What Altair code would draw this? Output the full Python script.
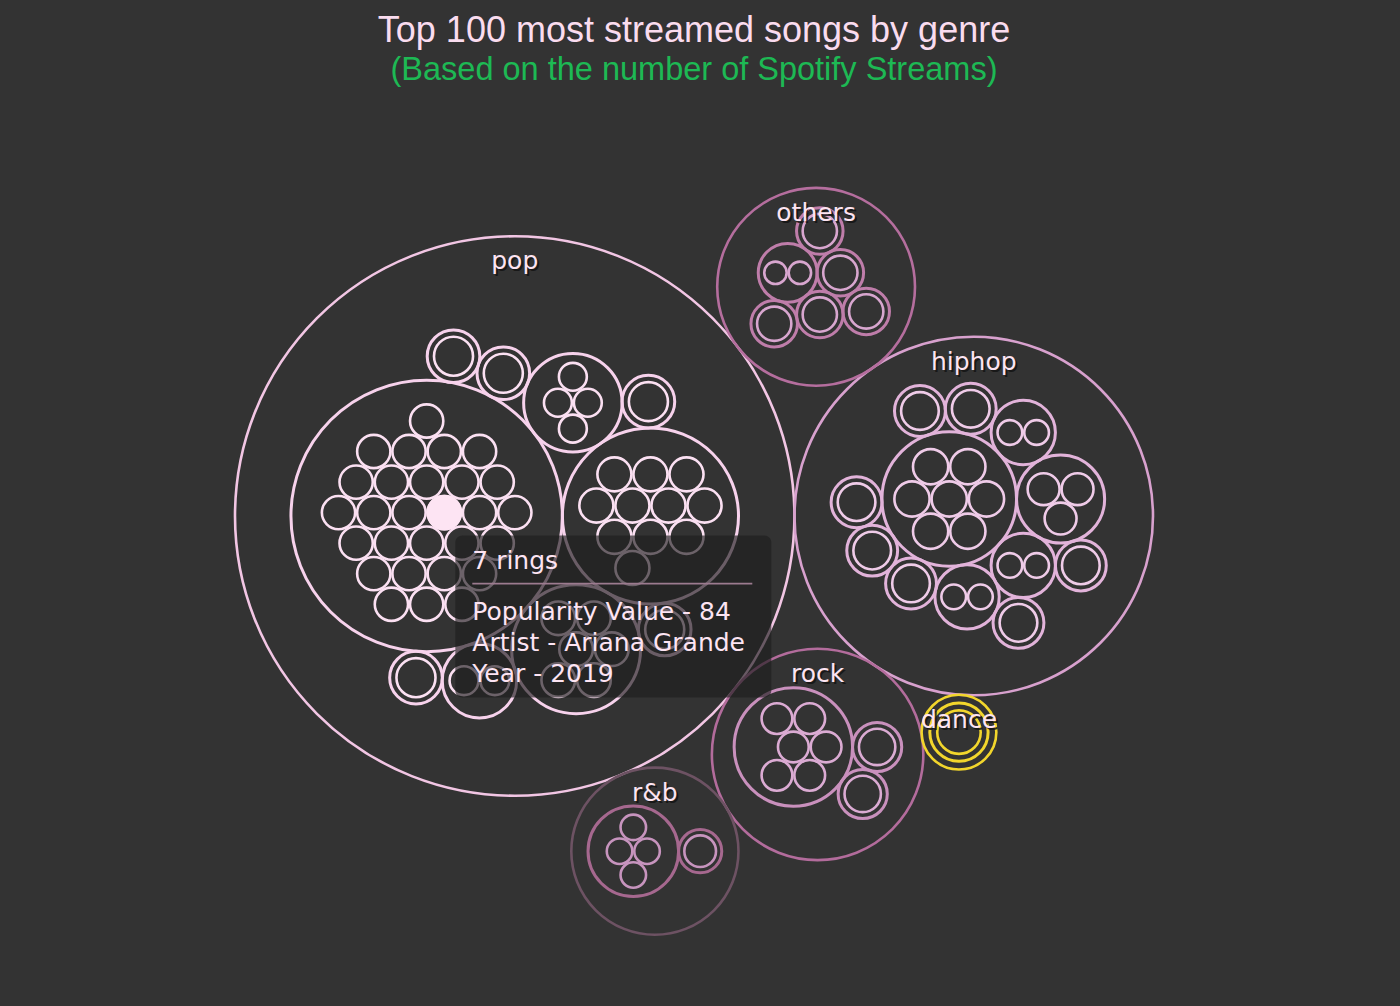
import math
import itertools
import pandas as pd
import altair as alt

# ---------------- data ----------------
TITLE = "Top 100 most streamed songs by genre"
SUBTITLE = "(Based on the number of Spotify Streams)"

GENRES = ["pop", "hiphop", "rock", "others", "r&b", "dance"]
# number of songs of every artist inside each genre
POP_ARTIST_SONGS = [28, 11, 6, 4, 2, 1, 1, 1, 1, 1]
HIPHOP_ARTIST_SONGS = [7, 3, 2, 2, 2, 1, 1, 1, 1, 1, 1, 1]
ROCK_ARTIST_SONGS = [6, 1, 1]
OTHERS_ARTIST_SONGS = [2, 1, 1, 1, 1, 1]
RNB_ARTIST_SONGS = [4, 1]
DANCE_ARTIST_SONGS = [1]
GENRE_ARTIST_SONGS = [POP_ARTIST_SONGS, HIPHOP_ARTIST_SONGS, ROCK_ARTIST_SONGS,
                      OTHERS_ARTIST_SONGS, RNB_ARTIST_SONGS, DANCE_ARTIST_SONGS]
# relative stream weight of every artist (one-song artist = 1), read from circle areas
POP_ARTIST_STREAMS = [26.6, 11.2, 6.0, 3.5, 2.0, 1, 1, 1, 1, 1]
HIPHOP_ARTIST_STREAMS = [7.0, 3.0, 1.6, 1.6, 1.6, 1, 1, 1, 1, 1, 1, 1]
ROCK_ARTIST_STREAMS = [5.8, 1, 1]
OTHERS_ARTIST_STREAMS = [1.6, 1, 1, 1, 1, 1]
RNB_ARTIST_STREAMS = [4.4, 1]
DANCE_ARTIST_STREAMS = [1]
GENRE_ARTIST_STREAMS = [POP_ARTIST_STREAMS, HIPHOP_ARTIST_STREAMS, ROCK_ARTIST_STREAMS,
                        OTHERS_ARTIST_STREAMS, RNB_ARTIST_STREAMS, DANCE_ARTIST_STREAMS]

# hovered song (tooltip)
HOVER_GENRE = "pop"
HOVER_ARTIST = 0
HOVER_SONG = 1
HOVER_TITLE = "7 rings"
HOVER_LINES = ["Popularity Value - 84", "Artist - Ariana Grande", "Year - 2019"]

# ---------------- styles / layout settings ----------------
W, H = 1400, 1006
CX, CY = 694, 516
ROOT_R = 459
INNER = 0.8          # artists fill 80% of their genre circle
INNER_SONGS = 0.83   # songs fill 83% of their artist circle
INNER_ONE = 0.78     # an only child
BG = "#333333"
PALETTE = {
    "pop": ("#f2c6e4", "#f7d2ec", "#fbe0f2"),
    "hiphop": ("#d8a1ce", "#e2b3da", "#efcbe8"),
    "rock": ("#b36c9c", "#c990bd", "#dbabd3"),
    "others": ("#b56e9e", "#bf7daa", "#d8a6cf"),
    "r&b": ("#6d5263", "#a6688f", "#c794be"),
    "dance": ("#f2d62c", "#f2d62c", "#f2d62c"),
}
SW = (2.6, 3.0, 2.6)

# ---------------- circle packing ----------------
def tangent_positions(p, q, r):
    x1, y1, R1 = p["x"], p["y"], p["r"] + r
    x2, y2, R2 = q["x"], q["y"], q["r"] + r
    dx, dy = x2 - x1, y2 - y1
    d = math.hypot(dx, dy)
    if d == 0 or d > R1 + R2 + 1e-9 or d < abs(R1 - R2) - 1e-9:
        return []
    a = (R1 * R1 - R2 * R2 + d * d) / (2 * d)
    h = math.sqrt(max(0.0, R1 * R1 - a * a))
    mx, my = x1 + a * dx / d, y1 + a * dy / d
    return [(mx - h * dy / d, my + h * dx / d), (mx + h * dy / d, my - h * dx / d)]


def pack_greedy(radii, rule):
    """place circles one by one, tangent to two placed ones; the free spot kept is the one
    nearest to the area-weighted barycenter ('bary') or with the smallest radius-weighted
    sum of distances ('wsum')"""
    placed = []
    for r in radii:
        if not placed:
            placed.append({"x": 0.0, "y": 0.0, "r": r})
            continue
        if len(placed) == 1:
            placed.append({"x": placed[0]["r"] + r, "y": 0.0, "r": r})
            continue
        wsum = sum(p["r"] ** 2 for p in placed)
        bx = sum(p["x"] * p["r"] ** 2 for p in placed) / wsum
        by = sum(p["y"] * p["r"] ** 2 for p in placed) / wsum
        best, best_s = None, None
        for p, q in itertools.combinations(placed, 2):
            for (x, y) in tangent_positions(p, q, r):
                bad = False
                for o in placed:
                    if math.hypot(x - o["x"], y - o["y"]) < (o["r"] + r) * (1 - 1e-9):
                        bad = True
                        break
                if bad:
                    continue
                if rule == "wsum":
                    s = sum(o["r"] * math.hypot(x - o["x"], y - o["y"]) for o in placed)
                else:
                    s = math.hypot(x - bx, y - by)
                if best is None or s < best_s - 1e-9 * max(1.0, best_s):
                    best, best_s = (x, y), s
        placed.append({"x": best[0], "y": best[1], "r": r})
    return placed


def enclose2(a, b):
    x21, y21, r21 = b["x"] - a["x"], b["y"] - a["y"], b["r"] - a["r"]
    l = math.hypot(x21, y21)
    if l == 0:
        return None
    return {"x": (a["x"] + b["x"] + x21 / l * r21) / 2,
            "y": (a["y"] + b["y"] + y21 / l * r21) / 2,
            "r": (l + a["r"] + b["r"]) / 2}


def enclose3(a, b, c):
    try:
        x1, y1, r1 = a["x"], a["y"], a["r"]
        x2, y2, r2 = b["x"], b["y"], b["r"]
        x3, y3, r3 = c["x"], c["y"], c["r"]
        a2, a3 = x1 - x2, x1 - x3
        b2, b3 = y1 - y2, y1 - y3
        c2, c3 = r2 - r1, r3 - r1
        d1 = x1 * x1 + y1 * y1 - r1 * r1
        d2 = d1 - x2 * x2 - y2 * y2 + r2 * r2
        d3 = d1 - x3 * x3 - y3 * y3 + r3 * r3
        ab = a3 * b2 - a2 * b3
        xa = (b2 * d3 - b3 * d2) / (ab * 2) - x1
        xb = (b3 * c2 - b2 * c3) / ab
        ya = (a3 * d2 - a2 * d3) / (ab * 2) - y1
        yb = (a2 * c3 - a3 * c2) / ab
        A = xb * xb + yb * yb - 1
        B = 2 * (r1 + xa * xb + ya * yb)
        C = xa * xa + ya * ya - r1 * r1
        if abs(A) > 1e-6:
            disc = B * B - 4 * A * C
            if disc < 0:
                return None
            r = -((B + math.sqrt(disc)) / (2 * A))
        else:
            r = -(C / B)
        return {"x": x1 + xa + xb * r, "y": y1 + ya + yb * r, "r": r}
    except ZeroDivisionError:
        return None


def contains(e, c):
    dr = e["r"] - c["r"] + 1e-6 * max(e["r"], c["r"], 1)
    dx, dy = c["x"] - e["x"], c["y"] - e["y"]
    return dr > 0 and dr * dr >= dx * dx + dy * dy


def enclose(circles):
    best = None
    cands = [{"x": c["x"], "y": c["y"], "r": c["r"]} for c in circles]
    cands += [enclose2(a, b) for a, b in itertools.combinations(circles, 2)]
    cands += [enclose3(a, b, c) for a, b, c in itertools.combinations(circles, 3)]
    for e in cands:
        if e is None or not (e["r"] > 0):
            continue
        if best is not None and e["r"] >= best["r"]:
            continue
        if all(contains(e, c) for c in circles):
            best = e
    return best


def layout_children(values, cx, cy, target_r, rule):
    n = len(values)
    order = sorted(range(n), key=lambda i: -values[i])
    packed = pack_greedy([math.sqrt(values[i]) for i in order], rule)
    e = enclose(packed)
    s = target_r / e["r"]
    out = [None] * n
    for k, i in enumerate(order):
        p = packed[k]
        out[i] = (cx + (p["x"] - e["x"]) * s, cy + (p["y"] - e["y"]) * s, p["r"] * s)
    return out


# ---------------- layout ----------------
rings, labels = [], []
hover = None

genre_lay = layout_children([sum(s) for s in GENRE_ARTIST_SONGS], CX, CY, ROOT_R, "wsum")
for gi, g in enumerate(GENRES):
    gx, gy, gr = genre_lay[gi]
    col = PALETTE[g]
    rings.append({"x": gx, "y": gy, "size": (2 * gr) ** 2, "color": col[0], "sw": SW[0]})
    labels.append({"x": gx, "y": gy - gr + 25, "text": g})
    songs = GENRE_ARTIST_SONGS[gi]
    weights = GENRE_ARTIST_STREAMS[gi]
    artist_lay = layout_children(weights, gx, gy, (INNER if len(songs) > 1 else INNER_ONE) * gr, "bary")
    for ai, n in enumerate(songs):
        ax, ay, ar = artist_lay[ai]
        rings.append({"x": ax, "y": ay, "size": (2 * ar) ** 2, "color": col[1], "sw": SW[1]})
        leaf_lay = layout_children([1] * n, ax, ay, (INNER_SONGS if n > 1 else INNER_ONE) * ar, "bary")
        for si, (lx, ly, lr) in enumerate(leaf_lay):
            dr = lr - 1.0
            rings.append({"x": lx, "y": ly, "size": (2 * dr) ** 2, "color": col[2], "sw": SW[2]})
            if g == HOVER_GENRE and ai == HOVER_ARTIST and si == HOVER_SONG:
                hover = (lx, ly, dr)

ring_df = pd.DataFrame(rings)
label_df = pd.DataFrame(labels)

hx, hy, hr = hover
hover_df = pd.DataFrame([{"x": hx, "y": hy, "size": (2 * hr + SW[2]) ** 2}])
tip_box = pd.DataFrame([{"x": hx + 11, "x2": hx + 327, "y": hy + 23, "y2": hy + 185}])
tip_rule = pd.DataFrame([{"x": hx + 28, "x2": hx + 308, "y": hy + 71}])
tip_text = pd.DataFrame([{"x": hx + 28, "y": hy + 48, "text": HOVER_TITLE}] +
                        [{"x": hx + 28, "y": hy + 99 + 31 * i, "text": t} for i, t in enumerate(HOVER_LINES)])
title_df = pd.DataFrame([{"text": TITLE}])
subtitle_df = pd.DataFrame([{"text": SUBTITLE}])

# ---------------- chart ----------------
def X(f="x"):
    return alt.X(f"{f}:Q", scale=alt.Scale(domain=[0, W], nice=False, zero=False), axis=None)


def Y(f="y"):
    return alt.Y(f"{f}:Q", scale=alt.Scale(domain=[0, H], nice=False, zero=False, reverse=True), axis=None)


ring_layer = alt.Chart(ring_df).mark_point(shape="circle", filled=False, opacity=1).encode(
    x=X(), y=Y(),
    size=alt.Size("size:Q", scale=None, legend=None),
    color=alt.Color("color:N", scale=None, legend=None),
    strokeWidth=alt.StrokeWidth("sw:Q", scale=None, legend=None),
)

hover_layer = alt.Chart(hover_df).mark_point(shape="circle", filled=True, opacity=1,
                                             color="#fde4f3", strokeWidth=0).encode(
    x=X(), y=Y(), size=alt.Size("size:Q", scale=None, legend=None))

label_shadow = alt.Chart(label_df).mark_text(font="DejaVu Sans", fontSize=25, color="#141414",
                                             opacity=0.85, dx=2, dy=2, baseline="middle",
                                             align="center").encode(x=X(), y=Y(), text="text:N")
label_layer = alt.Chart(label_df).mark_text(font="DejaVu Sans", fontSize=25, color="#fde4f2",
                                            baseline="middle", align="center").encode(
    x=X(), y=Y(), text="text:N")

tip_box_layer = alt.Chart(tip_box).mark_rect(fill="#1f1f1f", opacity=0.65, cornerRadius=7).encode(
    x=X(), x2="x2", y=Y(), y2="y2")
tip_rule_layer = alt.Chart(tip_rule).mark_rule(color="#9c7b8f", strokeWidth=1.6).encode(
    x=X(), x2="x2", y=Y())
tip_text_layer = alt.Chart(tip_text).mark_text(font="DejaVu Sans", fontSize=25, color="#fde4f3",
                                               baseline="middle", align="left").encode(
    x=X(), y=Y(), text="text:N")

title_layer = alt.Chart(title_df).mark_text(font="Liberation Sans", fontSize=36, color="#fadcef",
                                            baseline="middle", align="center").encode(
    x=alt.value(CX), y=alt.value(31), text="text:N")
subtitle_layer = alt.Chart(subtitle_df).mark_text(font="Liberation Sans", fontSize=32.5, color="#1db954",
                                                  baseline="middle", align="center").encode(
    x=alt.value(CX), y=alt.value(70), text="text:N")

chart = alt.layer(
    ring_layer, hover_layer, label_shadow, label_layer,
    tip_box_layer, tip_rule_layer, tip_text_layer, title_layer, subtitle_layer,
).properties(
    width=W, height=H, padding=0, autosize="none", background=BG,
).configure_view(stroke=None)

chart.save("out.html", embed_options={"renderer": "svg", "actions": False})
